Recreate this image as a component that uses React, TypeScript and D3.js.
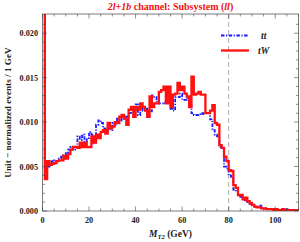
import * as d3 from "d3";

// M_T2 histogram, 1 GeV bins from 0 to 110
const binEdges = d3.range(0, 111);

const ttValues = [
  0.05, 0.0044, 0.005, 0.0052, 0.0056, 0.0057, 0.0056, 0.0059, 0.0061, 0.0063,
  0.0065, 0.0069, 0.0072, 0.0069, 0.0072, 0.0084, 0.008, 0.0086, 0.0078, 0.0082,
  0.0089, 0.0086, 0.0076, 0.0097, 0.0102, 0.0099, 0.0093, 0.0089, 0.0095, 0.0091,
  0.0099, 0.0097, 0.0104, 0.0102, 0.0104, 0.0106, 0.0106, 0.011, 0.0114, 0.0116,
  0.012, 0.0108, 0.0115, 0.0113, 0.0115, 0.0112, 0.0112, 0.013, 0.0128, 0.0123,
  0.0121, 0.0121, 0.0122, 0.0124, 0.0124, 0.0115, 0.0113, 0.0128, 0.0128, 0.0132,
  0.0125, 0.0125, 0.0127, 0.0121, 0.011, 0.0108, 0.0108, 0.0109, 0.011, 0.0109,
  0.011, 0.011, 0.0103, 0.0091, 0.0086, 0.0084, 0.0072, 0.0071, 0.005, 0.0048,
  0.004, 0.0037, 0.0024, 0.0022, 0.0018, 0.0016, 0.0014, 0.0012, 0.001, 0.0008,
  0.0006, 0.0005, 0.0005, 0.0006, 0.0003, 0.0003, 0.0002, 0.0002, 0.0002, 0.0002,
  0.0001, 0.0001, 0.0001, 0.0001, 0.0001, 0.0002, 0.0001, 0.0001, 0.0, 0.0001,
];

const tWValues = [
  0.05, 0.0036, 0.0056, 0.0052, 0.0053, 0.0054, 0.0056, 0.0057, 0.0057, 0.0062,
  0.0059, 0.0064, 0.0069, 0.0072, 0.0072, 0.0071, 0.0077, 0.0072, 0.0077, 0.0072,
  0.0072, 0.0084, 0.0077, 0.0086, 0.0082, 0.0089, 0.0091, 0.0087, 0.0099, 0.0093,
  0.0095, 0.01, 0.0099, 0.0106, 0.0108, 0.0104, 0.0097, 0.0114, 0.0117, 0.0106,
  0.0117, 0.0114, 0.0121, 0.0117, 0.0113, 0.0106, 0.0129, 0.0117, 0.0121, 0.0121,
  0.0134, 0.0136, 0.014, 0.0121, 0.014, 0.0117, 0.0131, 0.0132, 0.0144, 0.0136,
  0.014, 0.0132, 0.0129, 0.0117, 0.0151, 0.0131, 0.0132, 0.0134, 0.0131, 0.0131,
  0.011, 0.011, 0.0113, 0.0119, 0.0099, 0.0097, 0.0074, 0.0071, 0.0061, 0.0056,
  0.0046, 0.0045, 0.0029, 0.0026, 0.0018, 0.0018, 0.0013, 0.0015, 0.0011, 0.0009,
  0.0007, 0.0005, 0.0004, 0.0004, 0.0003, 0.0003, 0.0002, 0.0002, 0.0002, 0.0001,
  0.0002, 0.0001, 0.0001, 0.0002, 0.0001, 0.0001, 0.0001, 0.0, 0.0001, 0.0001,
];

const xMajorTicks = [0, 20, 40, 60, 80, 100];
const xMinorTicks = d3.range(0, 111, 5);
const yMajorTicks = [0, 0.005, 0.01, 0.015, 0.02];
const yMinorTicks = d3.range(0, 22).map((i) => i * 0.001);
const cutValue = 80;

const W = 300;
const H = 242;
const left = 42.5;
const right = 298.5;
const top = 14;
const bottom = 211;

const serif = "'Liberation Serif', 'Times New Roman', serif";

function stepPath(values: number[], x: d3.ScaleLinear<number, number>, y: d3.ScaleLinear<number, number>) {
  const pts: Array<[number, number]> = binEdges.map((e, i) => [e, values[Math.min(i, values.length - 1)]]);
  return d3
    .line<[number, number]>()
    .x((d) => x(d[0]))
    .y((d) => y(d[1]))
    .curve(d3.curveStepAfter)(pts);
}

function App() {
  const x = d3.scaleLinear().domain([0, 110]).range([left, right]);
  const y = d3.scaleLinear().domain([0, 0.02216]).range([bottom, top]);
  const frame = "#444";

  return (
    <svg
      width={W}
      height={H}
      style={{ position: "absolute", left: 0, top: 0, background: "#fff" }}
      fontFamily={serif}
    >
      <defs>
        <clipPath id="plot-clip">
          <rect x={left} y={top} width={right - left} height={bottom - top} />
        </clipPath>
      </defs>

      {/* title */}
      <text x={(left + right) / 2} y={10} textAnchor="middle" fontSize={10} fontWeight="bold" fill="#ee1111">
        <tspan fontStyle="italic">2l+1b</tspan>
        <tspan> channel: Subsystem (</tspan>
        <tspan fontStyle="italic">ll</tspan>
        <tspan>)</tspan>
      </text>

      {/* cut line */}
      <line
        x1={x(cutValue)}
        x2={x(cutValue)}
        y1={top}
        y2={bottom}
        stroke="#999"
        strokeWidth={0.8}
        strokeDasharray="5,3"
      />

      <g clipPath="url(#plot-clip)">
        <path
          d={stepPath(ttValues, x, y) || ""}
          fill="none"
          stroke="#1a1aff"
          strokeWidth={1.8}
          strokeDasharray="3.5,1.5,1.2,1.5"
        />
        <path d={stepPath(tWValues, x, y) || ""} fill="none" stroke="#ff1010" strokeWidth={2.3} />
      </g>

      {/* frame */}
      <rect x={left} y={top} width={right - left} height={bottom - top} fill="none" stroke={frame} strokeWidth={0.7} />

      {xMinorTicks.map((t) => {
        const len = xMajorTicks.includes(t) ? 4.5 : 2.5;
        return (
          <g key={`xt-${t}`} stroke={frame} strokeWidth={0.6}>
            <line x1={x(t)} x2={x(t)} y1={bottom} y2={bottom - len} />
            <line x1={x(t)} x2={x(t)} y1={top} y2={top + len} />
          </g>
        );
      })}
      {yMinorTicks.map((t, i) => {
        const len = i % 5 === 0 ? 4.5 : 2.5;
        return (
          <g key={`yt-${i}`} stroke={frame} strokeWidth={0.6}>
            <line x1={left} x2={left + len} y1={y(t)} y2={y(t)} />
            <line x1={right} x2={right - len} y1={y(t)} y2={y(t)} />
          </g>
        );
      })}

      {xMajorTicks.map((t) => (
        <text key={`xl-${t}`} x={x(t)} y={222.5} textAnchor="middle" fontSize={8.2} fontWeight="bold" fill="#222">
          {t}
        </text>
      ))}
      {yMajorTicks.map((t) => (
        <text key={`yl-${t}`} x={38} y={y(t) + 3} textAnchor="end" fontSize={8.2} fontWeight="bold" fill="#222">
          {d3.format(".3f")(t)}
        </text>
      ))}

      {/* axis labels */}
      <text x={(left + right) / 2} y={237} textAnchor="middle" fontSize={9.5} fontWeight="bold" fill="#222">
        <tspan fontStyle="italic">M</tspan>
        <tspan fontStyle="italic" fontSize={6.5} dy={1.5}>T2</tspan>
        <tspan dy={-1.5}> (GeV)</tspan>
      </text>
      <text
        transform={`translate(10.5, ${(top + bottom) / 2}) rotate(-90)`}
        textAnchor="middle"
        fontSize={9.2}
        fontWeight="bold"
        fill="#222"
      >
        Unit − normalized events / 1 GeV
      </text>

      {/* legend */}
      <line x1={221} x2={249} y1={35.5} y2={35.5} stroke="#1a1aff" strokeWidth={1.8} strokeDasharray="3.5,1.5,1.2,1.5" />
      <text x={261} y={38.5} fontSize={9.5} fontWeight="bold" fontStyle="italic" fill="#222">tt</text>
      <line x1={221} x2={249} y1={50.5} y2={50.5} stroke="#ff1010" strokeWidth={2.3} />
      <text x={258} y={53.5} fontSize={9.5} fontWeight="bold" fontStyle="italic" fill="#222">tW</text>
    </svg>
  );
}

export default App;
